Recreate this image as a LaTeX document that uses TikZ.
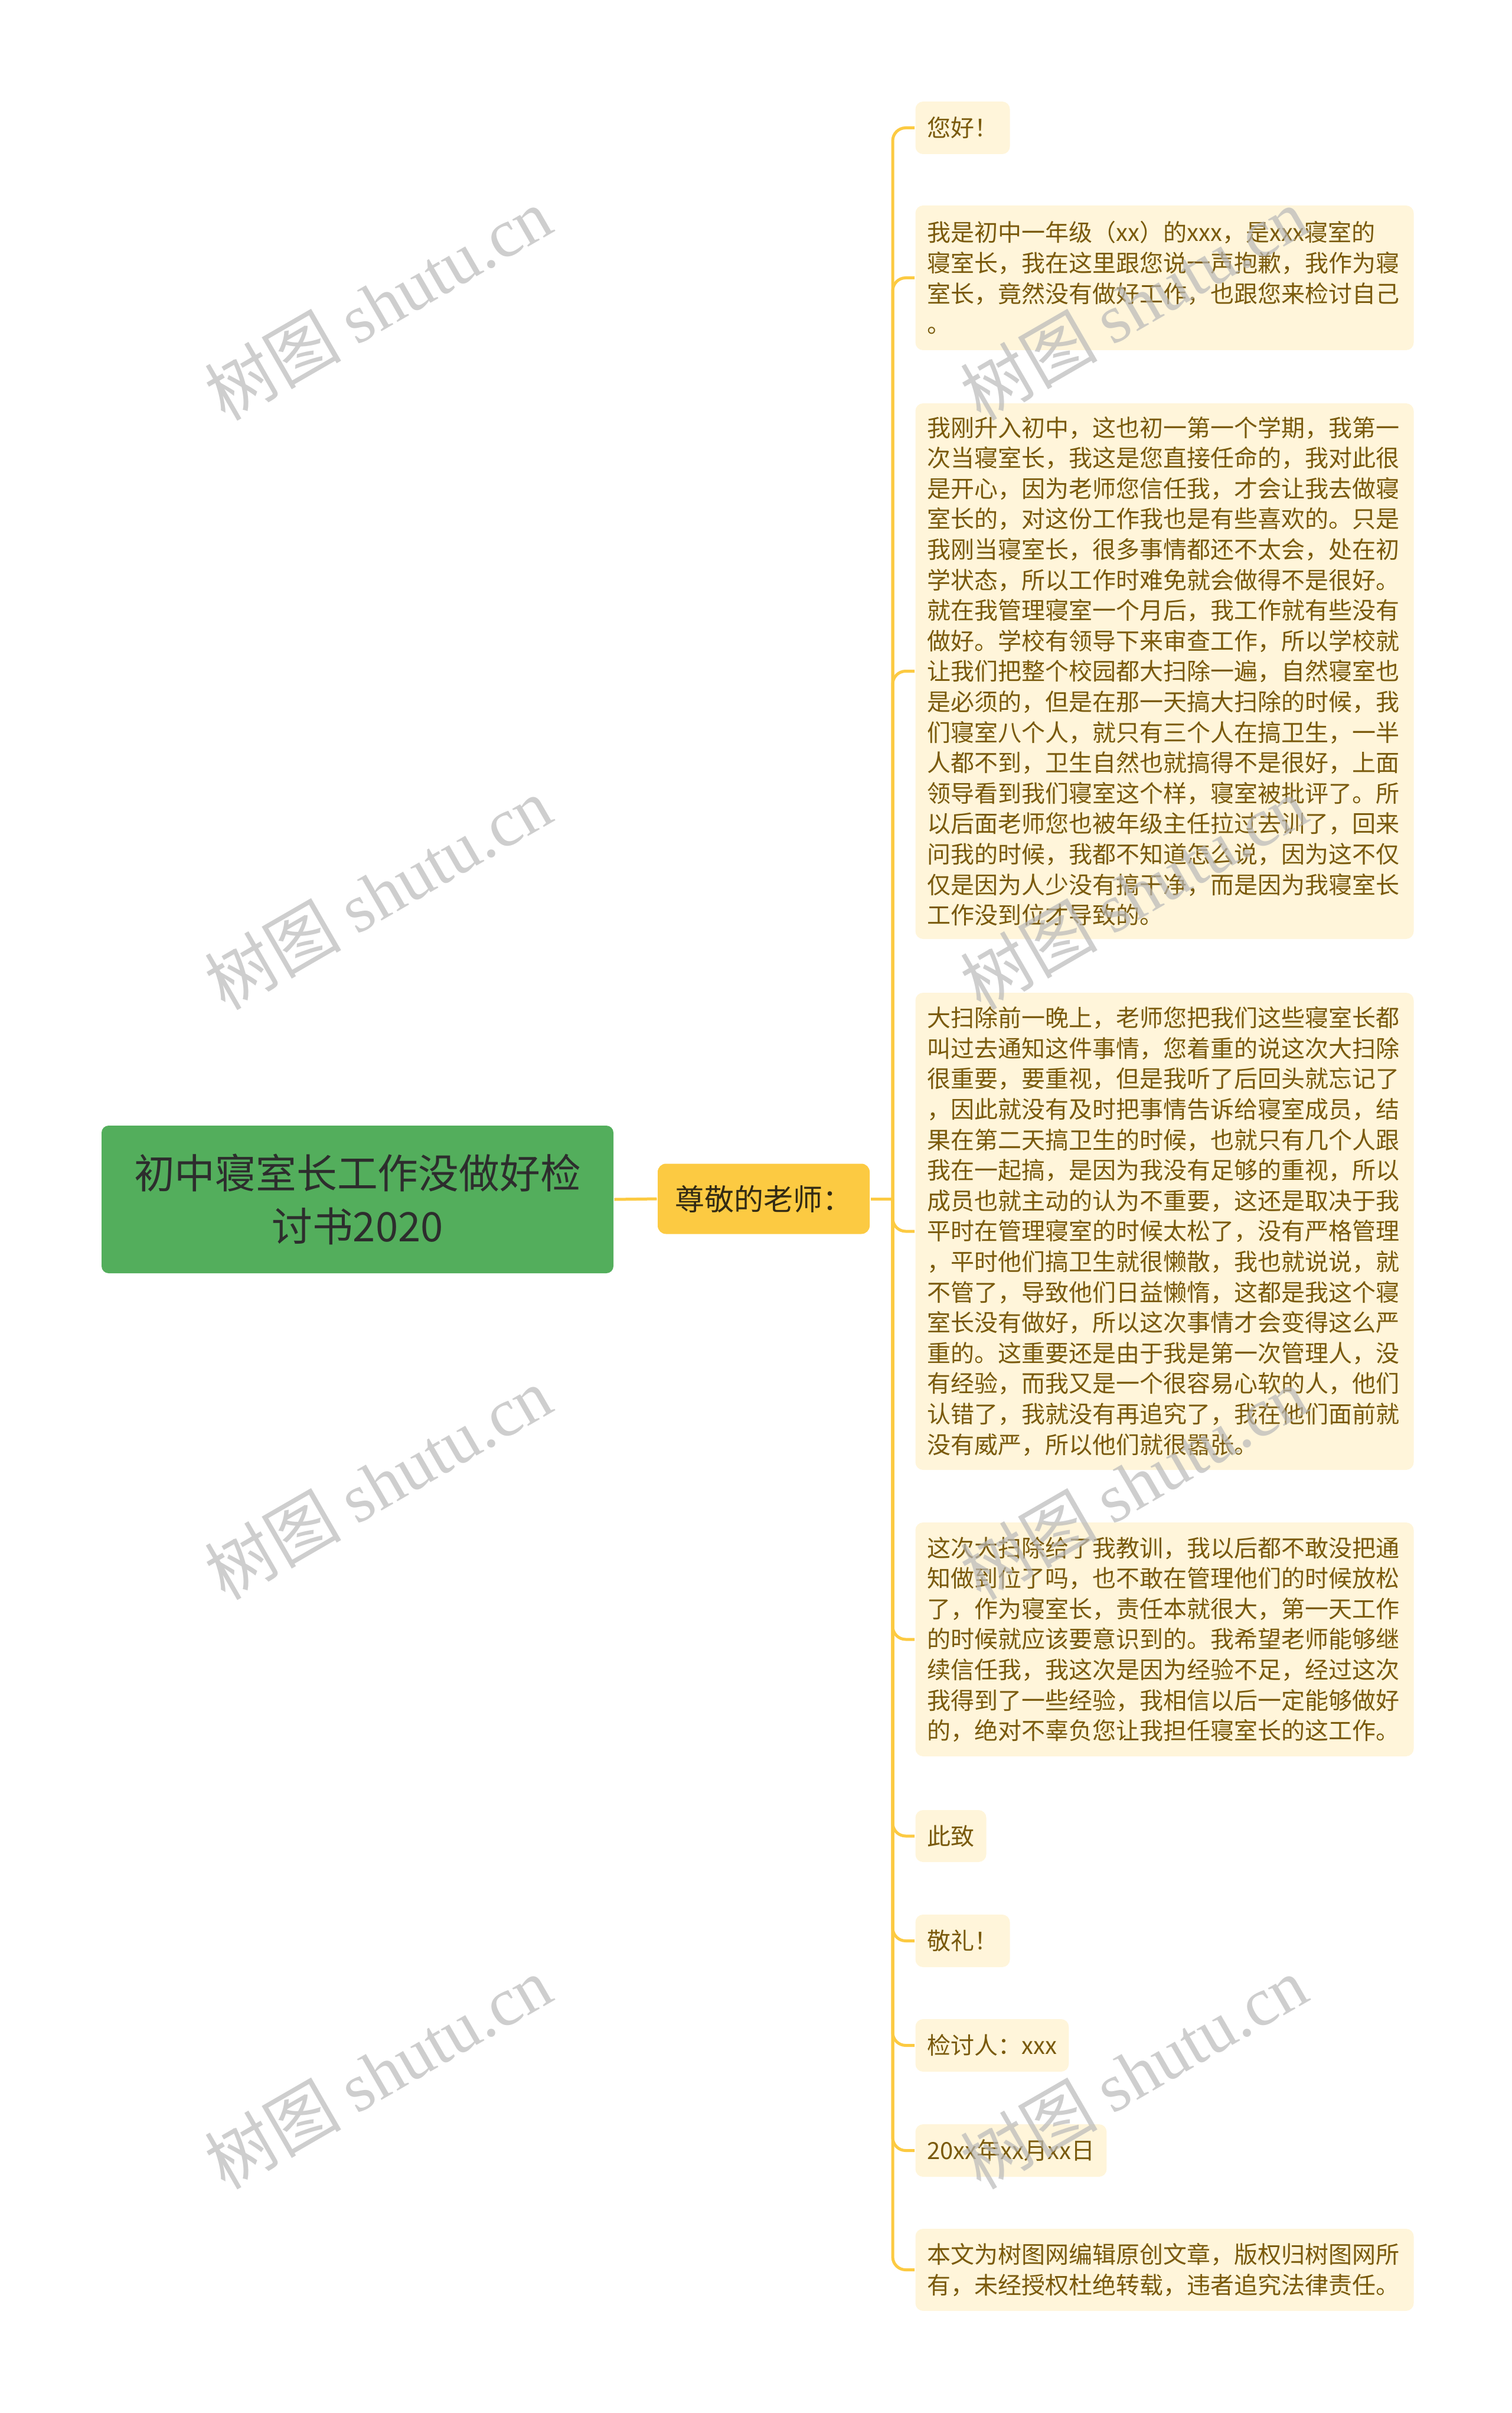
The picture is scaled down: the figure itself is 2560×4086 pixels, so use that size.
\documentclass[tikz,border=0pt]{standalone}
\usepackage{fontspec}
\setmainfont{Noto Sans CJK SC}
\newfontfamily\wmserif{Liberation Serif}

\definecolor{rootgreen}{RGB}{83,174,92}
\definecolor{rootink}{RGB}{45,45,45}
\definecolor{branchyellow}{RGB}{252,202,66}
\definecolor{teacherink}{RGB}{50,42,20}
\definecolor{leafcream}{RGB}{255,245,218}
\definecolor{leafink}{RGB}{122,90,12}
\definecolor{wmgray}{RGB}{185,185,185}

\tikzset{every picture/.style={line width=0.75pt}}
\tikzset{
  rootbox/.style={fill=rootgreen, text=rootink, rounded corners=3pt, align=center,
    minimum width=216.75pt, minimum height=62.5pt, inner sep=0pt,
    font=\fontsize{17.2pt}{22.5pt}\selectfont},
  teacherbox/.style={fill=branchyellow, text=teacherink, rounded corners=3.5pt,
    minimum width=89.75pt, minimum height=29.75pt, inner sep=0pt,
    font=\fontsize{12.5pt}{14pt}\selectfont},
  leaf/.style={fill=leafcream, text=leafink, rounded corners=3.25pt, anchor=west,
    align=left, inner xsep=5pt, inner ysep=0pt, minimum height=#1,
    font=\fontsize{10pt}{12.9pt}\selectfont},
  wideleaf/.style={leaf=#1, text width=201pt},
  branchline/.style={draw=branchyellow, line width=1.25pt, rounded corners=5.5pt},
  watermark/.style={text=wmgray, opacity=0.7, rotate=30, font=\fontsize{29pt}{29pt}\selectfont}
}

\begin{document}
\begin{tikzpicture}[x=0.25pt,y=0.25pt,yscale=-1,xscale=1]
\useasboundingbox (0,0) rectangle (2560,4086);

% Root
\node [rootbox] (root) at (605.5,2031) {初中寝室长工作没做好检\\讨书2020};
% Branch
\node [teacherbox] (teacher) at (1293.5,2030) {尊敬的老师：};
\coordinate (hub) at (1512,2030);

% Leaves
\node [leaf=22.25pt] (hello) at (1549,216.5) {您好！};
\node [wideleaf=61.25pt] (intro) at (1549,470.5) {我是初中一年级（xx）的xxx，是xxx寝室的\\
寝室长，我在这里跟您说一声抱歉，我作为寝\\
室长，竟然没有做好工作，也跟您来检讨自己\\
。};
\node [wideleaf=226.75pt] (story) at (1549,1136.5) {我刚升入初中，这也初一第一个学期，我第一\\
次当寝室长，我这是您直接任命的，我对此很\\
是开心，因为老师您信任我，才会让我去做寝\\
室长的，对这份工作我也是有些喜欢的。只是\\
我刚当寝室长，很多事情都还不太会，处在初\\
学状态，所以工作时难免就会做得不是很好。\\
就在我管理寝室一个月后，我工作就有些没有\\
做好。学校有领导下来审查工作，所以学校就\\
让我们把整个校园都大扫除一遍，自然寝室也\\
是必须的，但是在那一天搞大扫除的时候，我\\
们寝室八个人，就只有三个人在搞卫生，一半\\
人都不到，卫生自然也就搞得不是很好，上面\\
领导看到我们寝室这个样，寝室被批评了。所\\
以后面老师您也被年级主任拉过去训了，回来\\
问我的时候，我都不知道怎么说，因为这不仅\\
仅是因为人少没有搞干净，而是因为我寝室长\\
工作没到位才导致的。};
\node [wideleaf=202pt] (reason) at (1549,2085) {大扫除前一晚上，老师您把我们这些寝室长都\\
叫过去通知这件事情，您着重的说这次大扫除\\
很重要，要重视，但是我听了后回头就忘记了\\
，因此就没有及时把事情告诉给寝室成员，结\\
果在第二天搞卫生的时候，也就只有几个人跟\\
我在一起搞，是因为我没有足够的重视，所以\\
成员也就主动的认为不重要，这还是取决于我\\
平时在管理寝室的时候太松了，没有严格管理\\
，平时他们搞卫生就很懒散，我也就说说，就\\
不管了，导致他们日益懒惰，这都是我这个寝\\
室长没有做好，所以这次事情才会变得这么严\\
重的。这重要还是由于我是第一次管理人，没\\
有经验，而我又是一个很容易心软的人，他们\\
认错了，我就没有再追究了，我在他们面前就\\
没有威严，所以他们就很嚣张。};
\node [wideleaf=99pt] (lesson) at (1549,2776) {这次大扫除给了我教训，我以后都不敢没把通\\
知做到位了吗，也不敢在管理他们的时候放松\\
了，作为寝室长，责任本就很大，第一天工作\\
的时候就应该要意识到的。我希望老师能够继\\
续信任我，我这次是因为经验不足，经过这次\\
我得到了一些经验，我相信以后一定能够做好\\
的，绝对不辜负您让我担任寝室长的这工作。};
\node [leaf=22pt] (cizhi) at (1549,3109) {此致};
\node [leaf=22.25pt] (jingli) at (1549,3286.5) {敬礼！};
\node [leaf=22.25pt] (signer) at (1549,3463.5) {检讨人：xxx};
\node [leaf=22.25pt] (date) at (1549,3641.5) {20xx年xx月xx日};
\node [wideleaf=34.75pt] (notice) at (1549,3843.5) {本文为树图网编辑原创文章，版权归树图网所\\
有，未经授权杜绝转载，违者追究法律责任。};

% Connectors
\draw [branchline] (root.east) -- (teacher.west);
\draw [branchline] (teacher.east) -- (hub);
\draw [branchline] (hub) |- (hello.west);
\draw [branchline] (hub) |- (intro.west);
\draw [branchline] (hub) |- (story.west);
\draw [branchline] (hub) |- (reason.west);
\draw [branchline] (hub) |- (lesson.west);
\draw [branchline] (hub) |- (cizhi.west);
\draw [branchline] (hub) |- (jingli.west);
\draw [branchline] (hub) |- (signer.west);
\draw [branchline] (hub) |- (date.west);
\draw [branchline] (hub) |- (notice.west);

% Watermarks
\node [watermark] (wmleft1) at (640,514) {树图 {\wmserif shutu.cn}};
\node [watermark] (wmleft2) at (640,1512) {树图 {\wmserif shutu.cn}};
\node [watermark] (wmleft3) at (640,2511) {树图 {\wmserif shutu.cn}};
\node [watermark] (wmleft4) at (640,3509) {树图 {\wmserif shutu.cn}};
\node [watermark] (wmright1) at (1920,514) {树图 {\wmserif shutu.cn}};
\node [watermark] (wmright2) at (1920,1512) {树图 {\wmserif shutu.cn}};
\node [watermark] (wmright3) at (1920,2511) {树图 {\wmserif shutu.cn}};
\node [watermark] (wmright4) at (1920,3509) {树图 {\wmserif shutu.cn}};

\end{tikzpicture}
\end{document}
